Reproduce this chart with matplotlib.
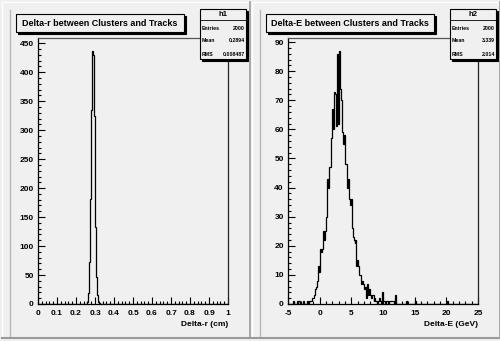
import numpy as np
import matplotlib.pyplot as plt
from matplotlib.patches import Rectangle
from matplotlib.ticker import MultipleLocator, FormatStrFormatter

plt.rcParams["axes.unicode_minus"] = False

# h1: Delta-r, 200 bins on [0, 1]
h1_lo = 0.26
h1_counts = [3, 19, 72, 181, 334, 437, 430, 324, 133, 47, 15, 4, 1]

# h2: Delta-E, 200 bins on [-5, 25]
h2_core_lo = -1.55
h2_core = [1, 1, 2, 2, 3, 5, 6, 8, 8, 13, 11,
           19, 18, 19, 25, 22, 25, 30, 43, 40, 47,
           47, 57, 67, 60, 73, 72, 63, 61, 86, 62,
           87, 74, 70, 59, 55, 58, 48, 48, 40, 43,
           36, 34, 36, 26, 23, 22, 21, 22, 13, 15,
           13, 10, 10, 7, 8, 7, 5, 6, 2, 7,
           3, 5, 3, 2, 3, 3, 1, 2, 1, 1,
           0, 1, 2, 1, 0, 4, 1, 1, 0, 1,
           1, 0, 1, 1, 1, 1, 1, 1, 0, 3]
h2_single = [-4.15, -3.6, -3.35, -3.1, -2.55, -2.0, -1.7, 13.7, 15.2, 20.05]

stats1 = [("Entries", "2000"), ("Mean", "0.2894"), ("RMS", "0.008487")]
stats2 = [("Entries", "2000"), ("Mean", "3.339"), ("RMS", "2.014")]

W, H = 500, 341
bg = "#f0f0f0"
font = "Liberation Sans"


def fill(lo, w, vals, nb, xmin):
    c = np.zeros(nb)
    i0 = int(round((lo - xmin) / w))
    c[i0:i0 + len(vals)] = vals
    return c


e1 = np.linspace(0, 1, 201)
c1 = fill(h1_lo, 0.005, h1_counts, 200, 0.0)
e2 = np.linspace(-5, 25, 201)
c2 = fill(h2_core_lo, 0.15, h2_core, 200, -5.0)
for x in h2_single:
    c2[int((x + 5) / 0.15)] += 1

fig = plt.figure(figsize=(W / 100, H / 100), dpi=100)
fig.patch.set_facecolor(bg)


def pad(x0, counts, edges, xlim, ymax, xmaj, xmin_, ymaj, ymin_, xlab):
    ax = fig.add_axes([(x0 + 38) / W, (H - 304) / H, 190 / W, 266 / H])
    ax.set_facecolor(bg)
    ax.stairs(counts, edges, color="black", lw=0.9)
    ax.set_xlim(*xlim)
    ax.set_ylim(0, ymax)
    ax.xaxis.set_major_locator(MultipleLocator(xmaj))
    ax.xaxis.set_minor_locator(MultipleLocator(xmin_))
    ax.xaxis.set_major_formatter(FormatStrFormatter("%g"))
    ax.yaxis.set_major_locator(MultipleLocator(ymaj))
    ax.yaxis.set_minor_locator(MultipleLocator(ymin_))
    ax.tick_params(which="both", direction="in", top=False, right=False, width=0.8,
                   labelsize=6)
    ax.tick_params(axis="x", pad=4)
    ax.tick_params(axis="y", pad=3)
    ax.tick_params(which="major", length=5)
    ax.tick_params(which="minor", length=2.5)
    for lb in ax.get_xticklabels() + ax.get_yticklabels():
        lb.set_fontfamily(font)
        lb.set_fontweight("bold")
    for s in ax.spines.values():
        s.set_linewidth(0.9)
    ax.spines["top"].set_color("#555555")
    ax.spines["right"].set_color("#222222")
    ax.set_xlabel(xlab, fontsize=6, fontweight="bold", family=font, loc="right", labelpad=3)
    return ax


ax1 = pad(0, c1, e1, (0, 1), 459, 0.1, 0.02, 50, 10, "Delta-r (cm)")
ax2 = pad(250, c2, e2, (-5, 25), 91.4, 5, 1, 10, 2, "Delta-E (GeV)")

# overlay in pixel coords for pad frames, title and stats boxes
ov = fig.add_axes([0, 0, 1, 1], zorder=10)
ov.set_xlim(0, W)
ov.set_ylim(H, 0)
ov.axis("off")
ov.patch.set_alpha(0)

for x0 in (0, 250):
    ov.plot([x0 + 2, x0 + 2], [2, 338], color="white", lw=1)
    ov.plot([x0 + 2, x0 + 250], [2, 2], color="white", lw=1)
    ov.plot([x0 + 10, x0 + 10], [10, 337], color="#b8b8b8", lw=1)
    ov.plot([x0 + 250, x0 + 250], [2, 338], color="#9a9a9a", lw=1.2)
    ov.plot([x0 + 2, x0 + 250], [337.5, 337.5], color="#9a9a9a", lw=1.5)


def box(x, y, w, h):
    ov.add_patch(Rectangle((x + 2, y + 2), w, h, facecolor="black", edgecolor="black", lw=0.8))
    ov.add_patch(Rectangle((x, y), w, h, facecolor=bg, edgecolor="black", lw=0.8))


titles = ["Delta-r between Clusters and Tracks", "Delta-E between Clusters and Tracks"]
names = ["h1", "h2"]
for x0, t, hn, st in zip((0, 250), titles, names, (stats1, stats2)):
    box(x0 + 16, 14, 168, 18)
    ov.text(x0 + 100, 23.5, t, ha="center", va="center", fontsize=6.5,
            fontweight="bold", family=font)
    box(x0 + 200, 9, 46, 50)
    ov.plot([x0 + 200, x0 + 246], [20, 20], color="black", lw=0.6)
    ov.text(x0 + 223, 15, hn, ha="center", va="center", fontsize=5.5,
            fontweight="bold", family=font)
    for i, (k, v) in enumerate(st):
        yy = 28 + 13 * i
        ov.text(x0 + 202, yy, k, ha="left", va="center", fontsize=3.8,
                fontweight="bold", family=font)
        ov.text(x0 + 245, yy, v, ha="right", va="center", fontsize=3.8,
                fontweight="bold", family=font)

fig.savefig("out.png", dpi=100, facecolor=bg)
